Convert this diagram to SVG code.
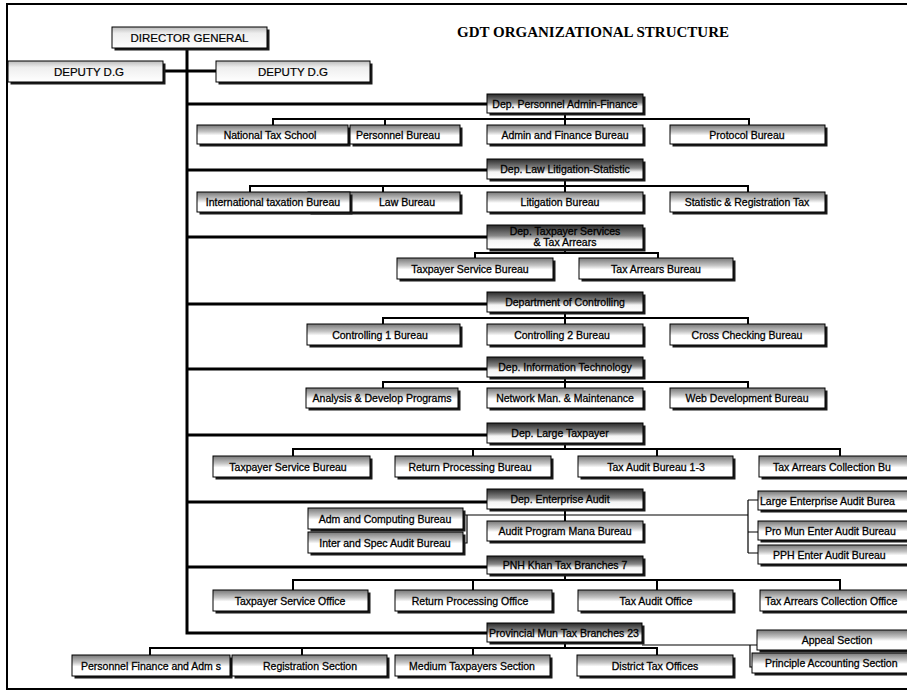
<svg xmlns="http://www.w3.org/2000/svg" width="907" height="691" viewBox="0 0 907 691">
<style>
.sh{fill:#1a1a1a}
.bx{stroke:#000;stroke-width:1}
.sub{fill:url(#gs)}
.dep{fill:url(#gd)}
.top{fill:url(#gl)}
.t{font-family:"Liberation Sans",Arial,sans-serif;font-size:10.5px;text-anchor:middle;fill:#000;stroke:#000;stroke-width:0.3}
.s{text-anchor:start}
.big{font-size:11.5px;stroke-width:0.2}
.title{font-family:"Liberation Serif","Times New Roman",serif;font-size:15px;font-weight:bold;fill:#000}
.c1{fill:none;stroke:#000;stroke-width:3}
.c2{fill:none;stroke:#000;stroke-width:2}
.c3{fill:none;stroke:#000;stroke-width:1.2}
.frame{fill:none;stroke:#000;stroke-width:2}
</style>
<defs>
<linearGradient id="gs" x1="0" y1="0" x2="0" y2="1"><stop offset="0" stop-color="#777"/><stop offset="0.35" stop-color="#c4c4c4"/><stop offset="0.55" stop-color="#fff"/><stop offset="1" stop-color="#fff"/></linearGradient>
<linearGradient id="gd" x1="0" y1="0" x2="0" y2="1"><stop offset="0" stop-color="#2a2a2a"/><stop offset="0.45" stop-color="#888"/><stop offset="0.65" stop-color="#f4f4f4"/><stop offset="1" stop-color="#fff"/></linearGradient>
<linearGradient id="gl" x1="0" y1="0" x2="0" y2="1"><stop offset="0" stop-color="#bbb"/><stop offset="0.3" stop-color="#eee"/><stop offset="1" stop-color="#fff"/></linearGradient>
</defs>
<rect width="907" height="691" fill="#fff"/>
<path class="frame" d="M907 4 H7 V689 H907"/>
<text class="title" x="457" y="37">GDT ORGANIZATIONAL STRUCTURE</text>

<g id="connectors">
<path class="c1" d="M187 48 V633 H487"/>
<path class="c1" d="M163 71 H216"/>
<path class="c1" d="M187 104 H487 M187 170 H487 M187 237 H487 M187 304 H487 M187 369 H487 M187 435 H487 M187 502 H487 M187 567 H487"/>
<path class="c2" d="M565 113 V125 M273 125 V119 H749 V125 M385 119 V125"/>
<path class="c2" d="M565 179 V192 M250 192 V186 H748 V192 M383 186 V192"/>
<path class="c2" d="M565 249 V253 M475 258 V253 H658 V258"/>
<path class="c2" d="M565 312 V324 M383 324 V318 H748 V324"/>
<path class="c2" d="M565 377 V388 M383 388 V382 H748 V388"/>
<path class="c2" d="M565 443 V449 M293 456 V449 H840 V456 M473 449 V456 M657 449 V456"/>
<path class="c2" d="M565 509 V521"/>
<path class="c3" d="M467 515 H748 M463 515 H467 V543 H463 M748 500 V553 M748 500 H758 M748 532 H758 M748 553 H758"/>
<path class="c2" d="M565 574 V580 M293 590 V580 H840 V590 M473 580 V590 M657 580 V590"/>
<path class="c2" d="M565 642 V648 M150 655 V648 H657 V655 M302 648 V655 M473 648 V655"/>
<path class="c3" d="M642 645 H757 M750 645 V667 H752"/>
</g>

<g id="director-general"><rect class="sh" x="114.5" y="29.5" width="155" height="21"/><rect class="bx top" x="112" y="27" width="155" height="21"/><text class="t big" x="189.5" y="42">DIRECTOR GENERAL</text></g>
<g id="deputy-dg-left"><rect class="sh" x="10.5" y="63.5" width="155" height="21"/><rect class="bx top" x="8" y="61" width="155" height="21"/><text class="t big" x="89" y="76" font-size="12">DEPUTY  D.G</text></g>
<g id="deputy-dg-right"><rect class="sh" x="218.5" y="63.5" width="154" height="21"/><rect class="bx top" x="216" y="61" width="154" height="21"/><text class="t big" x="293" y="76" font-size="12">DEPUTY D.G</text></g>

<g id="dep-personnel"><rect class="sh" x="489.5" y="96.5" width="156" height="19"/><rect class="bx dep" x="487" y="94" width="156" height="19"/><text class="t" x="565" y="108">Dep. Personnel Admin-Finance</text></g>
<g id="national-tax-school"><rect class="sh" x="199.5" y="127.5" width="151" height="19"/><rect class="bx sub" x="197" y="125" width="151" height="19"/><text class="t" x="270" y="139">National Tax School</text></g>
<g id="personnel-bureau"><rect class="sh" x="352.5" y="127.5" width="110" height="19"/><rect class="bx sub" x="350" y="125" width="110" height="19"/><text class="t" x="398" y="139">Personnel Bureau</text></g>
<g id="admin-finance-bureau"><rect class="sh" x="489.5" y="127.5" width="156" height="19"/><rect class="bx sub" x="487" y="125" width="156" height="19"/><text class="t" x="565" y="139">Admin and Finance Bureau</text></g>
<g id="protocol-bureau"><rect class="sh" x="672.5" y="127.5" width="155" height="19"/><rect class="bx sub" x="670" y="125" width="155" height="19"/><text class="t" x="747" y="139">Protocol Bureau</text></g>

<g id="dep-law"><rect class="sh" x="489.5" y="161.5" width="156" height="20"/><rect class="bx dep" x="487" y="159" width="156" height="20"/><text class="t" x="565" y="173">Dep. Law Litigation-Statistic</text></g>
<g id="law-bureau"><rect class="sh" x="310.5" y="194.5" width="152" height="20"/><rect class="bx sub" x="308" y="192" width="152" height="20"/><text class="t" x="407" y="206">Law Bureau</text></g>
<g id="international-taxation"><rect class="sh" x="199.5" y="194.5" width="153" height="20"/><rect class="bx sub" x="197" y="192" width="153" height="20"/><text class="t" x="273" y="206">International taxation  Bureau</text></g>
<g id="litigation-bureau"><rect class="sh" x="489.5" y="194.5" width="156" height="20"/><rect class="bx sub" x="487" y="192" width="156" height="20"/><text class="t" x="560" y="206">Litigation Bureau</text></g>
<g id="statistic-registration"><rect class="sh" x="672.5" y="194.5" width="155" height="20"/><rect class="bx sub" x="670" y="192" width="155" height="20"/><text class="t" x="747" y="206">Statistic &amp; Registration Tax</text></g>

<g id="dep-taxpayer-services"><rect class="sh" x="489.5" y="227.5" width="156" height="24"/><rect class="bx dep" x="487" y="225" width="156" height="24"/><text class="t" x="565" y="235">Dep. Taxpayer Services</text><text class="t" x="565" y="246">&amp; Tax Arrears</text></g>
<g id="taxpayer-service-bureau-1"><rect class="sh" x="399.5" y="260.5" width="156" height="21"/><rect class="bx sub" x="397" y="258" width="156" height="21"/><text class="t" x="470" y="273">Taxpayer Service Bureau</text></g>
<g id="tax-arrears-bureau"><rect class="sh" x="581.5" y="260.5" width="154" height="21"/><rect class="bx sub" x="579" y="258" width="154" height="21"/><text class="t" x="656" y="273">Tax Arrears Bureau</text></g>

<g id="dep-controlling"><rect class="sh" x="489.5" y="294.5" width="156" height="20"/><rect class="bx dep" x="487" y="292" width="156" height="20"/><text class="t" x="565" y="306">Department of Controlling</text></g>
<g id="controlling-1"><rect class="sh" x="309.5" y="326.5" width="153" height="21"/><rect class="bx sub" x="307" y="324" width="153" height="21"/><text class="t" x="380" y="339">Controlling 1 Bureau</text></g>
<g id="controlling-2"><rect class="sh" x="489.5" y="326.5" width="156" height="21"/><rect class="bx sub" x="487" y="324" width="156" height="21"/><text class="t" x="562" y="339">Controlling 2 Bureau</text></g>
<g id="cross-checking"><rect class="sh" x="672.5" y="326.5" width="155" height="21"/><rect class="bx sub" x="670" y="324" width="155" height="21"/><text class="t" x="747" y="339">Cross Checking Bureau</text></g>

<g id="dep-it"><rect class="sh" x="489.5" y="359.5" width="156" height="20"/><rect class="bx dep" x="487" y="357" width="156" height="20"/><text class="t" x="565" y="371">Dep. Information Technology</text></g>
<g id="analysis-develop"><rect class="sh" x="308.5" y="390.5" width="152" height="20"/><rect class="bx sub" x="306" y="388" width="152" height="20"/><text class="t" x="382" y="402">Analysis &amp; Develop Programs</text></g>
<g id="network-man"><rect class="sh" x="489.5" y="390.5" width="156" height="20"/><rect class="bx sub" x="487" y="388" width="156" height="20"/><text class="t" x="565" y="402">Network Man. &amp; Maintenance</text></g>
<g id="web-development"><rect class="sh" x="672.5" y="390.5" width="155" height="20"/><rect class="bx sub" x="670" y="388" width="155" height="20"/><text class="t" x="747" y="402">Web Development Bureau</text></g>

<g id="dep-large-taxpayer"><rect class="sh" x="489.5" y="425.5" width="156" height="20"/><rect class="bx dep" x="487" y="423" width="156" height="20"/><text class="t" x="560" y="437">Dep. Large Taxpayer</text></g>
<g id="taxpayer-service-bureau-2"><rect class="sh" x="215.5" y="458.5" width="157" height="21"/><rect class="bx sub" x="213" y="456" width="157" height="21"/><text class="t" x="288" y="471">Taxpayer Service Bureau</text></g>
<g id="return-processing-bureau"><rect class="sh" x="397.5" y="458.5" width="156" height="21"/><rect class="bx sub" x="395" y="456" width="156" height="21"/><text class="t" x="470" y="471">Return Processing Bureau</text></g>
<g id="tax-audit-bureau"><rect class="sh" x="580.5" y="458.5" width="155" height="21"/><rect class="bx sub" x="578" y="456" width="155" height="21"/><text class="t" x="656" y="471">Tax Audit Bureau 1-3</text></g>
<g id="tax-arrears-collection-bu"><rect class="sh" x="761.5" y="458.5" width="160" height="21"/><rect class="bx sub" x="759" y="456" width="160" height="21"/><text class="t s" x="773" y="471">Tax Arrears Collection Bu</text></g>

<g id="dep-enterprise-audit"><rect class="sh" x="489.5" y="491.5" width="156" height="20"/><rect class="bx dep" x="487" y="489" width="156" height="20"/><text class="t" x="560" y="503">Dep. Enterprise Audit</text></g>
<g id="adm-computing"><rect class="sh" x="310.5" y="510.5" width="155" height="21"/><rect class="bx sub" x="308" y="508" width="155" height="21"/><text class="t" x="385" y="523">Adm and Computing Bureau</text></g>
<g id="inter-spec-audit"><rect class="sh" x="310.5" y="534.5" width="155" height="21"/><rect class="bx sub" x="308" y="532" width="155" height="21"/><text class="t" x="385" y="547">Inter and Spec Audit  Bureau</text></g>
<g id="audit-program"><rect class="sh" x="489.5" y="523.5" width="156" height="20"/><rect class="bx sub" x="487" y="521" width="156" height="20"/><text class="t" x="565" y="535">Audit Program Mana Bureau</text></g>
<g id="large-enterprise-audit"><rect class="sh" x="760.5" y="493.5" width="160" height="19"/><rect class="bx sub" x="758" y="491" width="160" height="19"/><text class="t s" x="760" y="505">Large Enterprise Audit Burea</text></g>
<g id="pro-mun-enter-audit"><rect class="sh" x="760.5" y="523.5" width="160" height="19"/><rect class="bx sub" x="758" y="521" width="160" height="19"/><text class="t s" x="765" y="535">Pro Mun Enter Audit  Bureau</text></g>
<g id="pph-enter-audit"><rect class="sh" x="760.5" y="547.5" width="160" height="19"/><rect class="bx sub" x="758" y="545" width="160" height="19"/><text class="t s" x="773" y="559">PPH Enter Audit  Bureau</text></g>

<g id="pnh-khan"><rect class="sh" x="489.5" y="558.5" width="156" height="18"/><rect class="bx dep" x="487" y="556" width="156" height="18"/><text class="t" x="565" y="569">PNH Khan Tax Branches 7</text></g>
<g id="taxpayer-service-office"><rect class="sh" x="215.5" y="592.5" width="155" height="21"/><rect class="bx sub" x="213" y="590" width="155" height="21"/><text class="t" x="290" y="605">Taxpayer Service Office</text></g>
<g id="return-processing-office"><rect class="sh" x="397.5" y="592.5" width="157" height="21"/><rect class="bx sub" x="395" y="590" width="157" height="21"/><text class="t" x="470" y="605">Return Processing Office</text></g>
<g id="tax-audit-office"><rect class="sh" x="580.5" y="592.5" width="155" height="21"/><rect class="bx sub" x="578" y="590" width="155" height="21"/><text class="t" x="656" y="605">Tax Audit Office</text></g>
<g id="tax-arrears-collection-office"><rect class="sh" x="762.5" y="592.5" width="160" height="21"/><rect class="bx sub" x="760" y="590" width="160" height="21"/><text class="t s" x="765" y="605">Tax Arrears Collection Office</text></g>

<g id="provincial-mun"><rect class="sh" x="489.5" y="625.5" width="155" height="19"/><rect class="bx dep" x="487" y="623" width="155" height="19"/><text class="t" x="564" y="637">Provincial Mun Tax Branches 23</text></g>
<g id="personnel-finance-adm"><rect class="sh" x="74.5" y="657.5" width="158" height="21"/><rect class="bx sub" x="72" y="655" width="158" height="21"/><text class="t" x="151" y="670">Personnel Finance and Adm s</text></g>
<g id="registration-section"><rect class="sh" x="234.5" y="657.5" width="155" height="21"/><rect class="bx sub" x="232" y="655" width="155" height="21"/><text class="t" x="310" y="670">Registration Section</text></g>
<g id="medium-taxpayers-section"><rect class="sh" x="397.5" y="657.5" width="155" height="21"/><rect class="bx sub" x="395" y="655" width="155" height="21"/><text class="t" x="472" y="670">Medium Taxpayers Section</text></g>
<g id="district-tax-offices"><rect class="sh" x="579.5" y="657.5" width="156" height="21"/><rect class="bx sub" x="577" y="655" width="156" height="21"/><text class="t" x="655" y="670">District Tax Offices</text></g>
<g id="appeal-section"><rect class="sh" x="759.5" y="632.5" width="160" height="20"/><rect class="bx sub" x="757" y="630" width="160" height="20"/><text class="t" x="837" y="644">Appeal Section</text></g>
<g id="principle-accounting"><rect class="sh" x="754.5" y="655.5" width="165" height="20"/><rect class="bx sub" x="752" y="653" width="165" height="20"/><text class="t s" x="765" y="667">Principle Accounting Section</text></g>
</svg>
